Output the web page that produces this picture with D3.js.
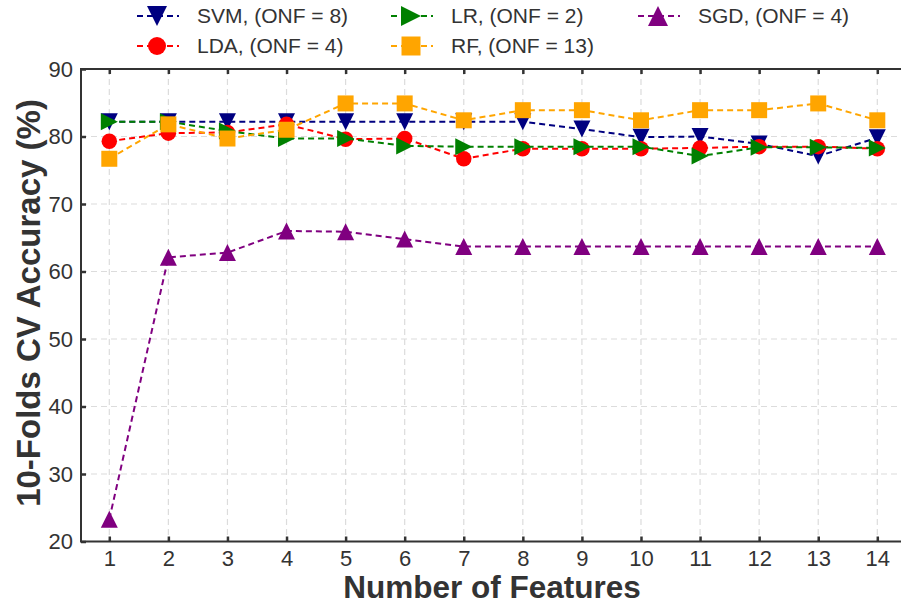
<!DOCTYPE html>
<html>
<head>
<meta charset="utf-8">
<script src="https://cdn.jsdelivr.net/npm/d3@7"></script>
<style>
  body { margin: 0; background: #fff; }
  svg { display: block; font-family: "Liberation Sans", Arial, sans-serif; }
</style>
</head>
<body>
<div id="chart"></div>
<script>
// data
var features = [1, 2, 3, 4, 5, 6, 7, 8, 9, 10, 11, 12, 13, 14];
var svmAcc = [82.2, 82.2, 82.2, 82.2, 82.2, 82.2, 82.2, 82.2, 81.1, 79.9, 80.0, 78.9, 77.1, 79.8];
var ldaAcc = [79.3, 80.5, 80.6, 81.8, 79.6, 79.7, 76.7, 78.2, 78.2, 78.2, 78.3, 78.5, 78.5, 78.2];
var lrAcc = [82.2, 82.2, 80.8, 79.7, 79.7, 78.6, 78.5, 78.5, 78.5, 78.5, 77.1, 78.4, 78.4, 78.3];
var rfAcc = [76.7, 81.8, 79.7, 81.0, 84.9, 84.9, 82.4, 83.9, 83.9, 82.4, 83.9, 83.9, 84.9, 82.4];
var sgdAcc = [23.3, 62.1, 62.8, 66.0, 65.9, 64.8, 63.7, 63.7, 63.7, 63.7, 63.7, 63.7, 63.7, 63.7];
var yTicks = [20, 30, 40, 50, 60, 70, 80, 90];

var series = [
    { name: "SVM, (ONF = 8)", values: svmAcc, color: "#000080", marker: "tdown" },
    { name: "LDA, (ONF = 4)", values: ldaAcc, color: "#ff0000", marker: "circle" },
    { name: "LR, (ONF = 2)", values: lrAcc, color: "#008000", marker: "tright" },
    { name: "RF, (ONF = 13)", values: rfAcc, color: "#ffa500", marker: "square" },
    { name: "SGD, (ONF = 4)", values: sgdAcc, color: "#800080", marker: "tup" }
];

var W = 901, H = 605;
var pLeft = 81, pTop = 69, pBottom = 541.5, pRight = 901;

var x = d3.scaleLinear().domain([1, 14]).range([109.3, 877.3]);
var y = d3.scaleLinear().domain([20, 90]).range([pBottom, pTop]);

// marker size per type (plot, legend)
var markerSize = {
    tdown: [17, 20], tup: [17, 20], tright: [17, 20], square: [16, 19], circle: [15.5, 18]
};

// marker path, s = full width in px, centred on its box
function markerPath(type, s) {
    var h = s / 2;
    if (type == "tdown") return "M" + (-h) + "," + (-h) + "L" + h + "," + (-h) + "L0," + h + "Z";
    if (type == "tup") return "M" + (-h) + "," + h + "L" + h + "," + h + "L0," + (-h) + "Z";
    if (type == "tright") return "M" + (-h) + "," + (-h) + "L" + h + ",0L" + (-h) + "," + h + "Z";
    if (type == "square") return "M" + (-h) + "," + (-h) + "H" + h + "V" + h + "H" + (-h) + "Z";
    return "M" + (-h) + ",0A" + h + "," + h + " 0 1,0 " + h + ",0A" + h + "," + h + " 0 1,0 " + (-h) + ",0Z";
}

var svg = d3.select("#chart").append("svg")
    .attr("width", W)
    .attr("height", H);

// grid
svg.append("g").selectAll("line")
    .data(features)
    .enter().append("line")
    .attr("x1", function(d) { return x(d); })
    .attr("x2", function(d) { return x(d); })
    .attr("y1", pTop)
    .attr("y2", pBottom)
    .attr("stroke", "#dcdcdc")
    .attr("stroke-width", 1.2)
    .attr("stroke-dasharray", "6,4");

svg.append("g").selectAll("line")
    .data(yTicks)
    .enter().append("line")
    .attr("x1", pLeft)
    .attr("x2", pRight)
    .attr("y1", function(d) { return y(d); })
    .attr("y2", function(d) { return y(d); })
    .attr("stroke", "#dcdcdc")
    .attr("stroke-width", 1.2)
    .attr("stroke-dasharray", "6,4");

// series: line then markers, in legend order
var line = d3.line()
    .x(function(d, i) { return x(features[i]); })
    .y(function(d) { return y(d); });

series.forEach(function(s) {
    var g = svg.append("g");
    g.append("path")
        .datum(s.values)
        .attr("d", line)
        .attr("fill", "none")
        .attr("stroke", s.color)
        .attr("stroke-width", 2)
        .attr("stroke-dasharray", "6,4");
    g.selectAll("path.m")
        .data(s.values)
        .enter().append("path")
        .attr("class", "m")
        .attr("transform", function(d, i) { return "translate(" + x(features[i]) + "," + y(d) + ")"; })
        .attr("d", markerPath(s.marker, markerSize[s.marker][0]))
        .attr("fill", s.color);
});

// axes
var axisCol = "#333";
var xAxisB = d3.axisBottom(x).tickValues(features).tickSize(-5).tickPadding(9).tickFormat(d3.format("d"));
var xAxisT = d3.axisTop(x).tickValues(features).tickSize(-5).tickFormat("");
var yAxisL = d3.axisLeft(y).tickValues(yTicks).tickSize(-5).tickPadding(8);

var gb = svg.append("g").attr("transform", "translate(0," + pBottom + ")").call(xAxisB);
var gt = svg.append("g").attr("transform", "translate(0," + pTop + ")").call(xAxisT);
var gl = svg.append("g").attr("transform", "translate(" + pLeft + ",0)").call(yAxisL);

[gb, gt, gl].forEach(function(g) {
    g.select(".domain").remove();
    g.selectAll(".tick line").attr("stroke", axisCol).attr("stroke-width", 2.5);
    g.selectAll(".tick text").attr("fill", "#333").style("font-size", "22px").style("font-family", "'Liberation Sans', Arial, sans-serif");
});

svg.append("line").attr("x1", pLeft).attr("x2", pRight).attr("y1", pBottom).attr("y2", pBottom)
    .attr("stroke", axisCol).attr("stroke-width", 2);
svg.append("line").attr("x1", pLeft).attr("x2", pRight).attr("y1", pTop).attr("y2", pTop)
    .attr("stroke", axisCol).attr("stroke-width", 2);
svg.append("line").attr("x1", pLeft).attr("x2", pLeft).attr("y1", pTop - 1).attr("y2", pBottom + 1)
    .attr("stroke", axisCol).attr("stroke-width", 2);

// axis titles
svg.append("text")
    .attr("x", 492)
    .attr("y", 598)
    .attr("text-anchor", "middle")
    .attr("fill", "#333")
    .style("font-size", "31.5px")
    .style("font-weight", "bold")
    .text("Number of Features");

svg.append("text")
    .attr("transform", "translate(40,303) rotate(-90)")
    .attr("text-anchor", "middle")
    .attr("fill", "#333")
    .style("font-size", "33px")
    .style("font-weight", "bold")
    .text("10-Folds CV Accuracy (%)");

// legend, 3 columns filled column first
var legCols = [137, 391, 638];
var legRows = [16, 46];
var leg = svg.append("g");
series.forEach(function(s, i) {
    var cx = legCols[Math.floor(i / 2)], cy = legRows[i % 2];
    var item = leg.append("g").attr("transform", "translate(" + cx + "," + cy + ")");
    item.append("line")
        .attr("x1", 0).attr("x2", 42).attr("y1", 0).attr("y2", 0)
        .attr("stroke", s.color).attr("stroke-width", 2).attr("stroke-dasharray", "6,4");
    item.append("path")
        .attr("transform", "translate(20,0)")
        .attr("d", markerPath(s.marker, markerSize[s.marker][1]))
        .attr("fill", s.color);
    item.append("text")
        .attr("x", 60)
        .attr("y", 0)
        .attr("dy", "0.35em")
        .attr("fill", "#333")
        .style("font-size", "21px")
        .text(s.name);
});
</script>
</body>
</html>
